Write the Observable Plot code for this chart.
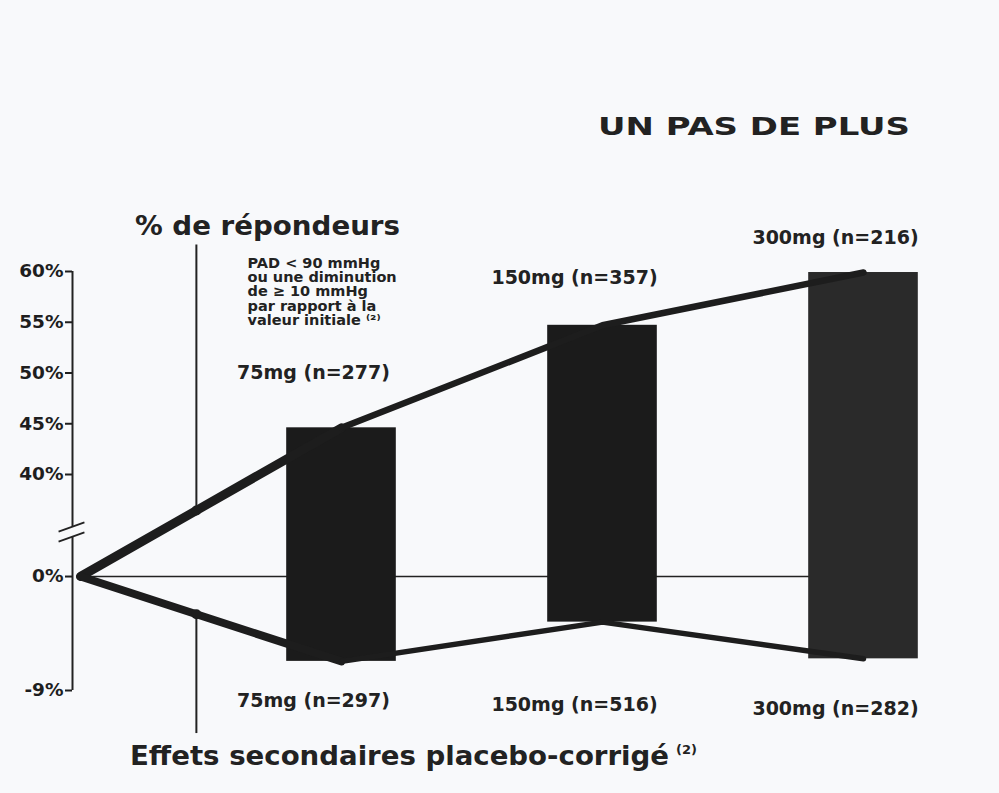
<!DOCTYPE html>
<html><head><meta charset="utf-8">
<script src="https://cdn.jsdelivr.net/npm/d3@7"></script>
<script src="https://cdn.jsdelivr.net/npm/@observablehq/plot@0.6"></script>
<style>
html,body{margin:0;padding:0;background:#f8f9fb;}
#chart{width:999px;height:793px;}
</style></head><body><div id="chart"></div>
<script>
// ---- data ----
const doses = ["75mg", "150mg", "300mg"];
const dosePos = [1, 2, 3];
const repondeurs = [44.6, 54.7, 59.9];      // % de répondeurs
const effets = [-6.7, -3.6, -6.5];          // effets secondaires placebo-corrigé
const nRepondeurs = [277, 357, 216];
const nEffets = [297, 516, 282];
const yTicks = [60, 55, 50, 45, 40, 0, -9];
const note = ["PAD < 90 mmHg", "ou une diminution", "de ≥ 10 mmHg", "par rapport à la", "valeur initiale ⁽²⁾"];

// ---- annotation anchors (data units) ----
const labelRepY = [50.0, 59.4, 63.3];
const labelEffY = [-9.8, -10.1, -10.45];

const bars = doses.map((d, i) => ({dose: d, x: dosePos[i], rep: repondeurs[i], eff: effets[i], nR: nRepondeurs[i], nE: nEffets[i], ly: labelRepY[i], le: labelEffY[i]}));
const upper = [{x: 0, v: 0}, ...bars.map(b => ({x: b.x, v: b.rep}))];
const lower = [{x: 0, v: 0}, ...bars.map(b => ({x: b.x, v: b.eff}))];

// broken axis: piecewise transform of the y values (-9..0, 0..40 compressed, 40..60)
const yBreak = d3.scaleLinear().domain([-9, 0, 40, 60]).range([0, 0.272, 0.5155, 1]);
const xDomain = [0, 3], xRange = [80, 863];
const t = 0.444;
const onSeg = v => { const a = yBreak(0), b = yBreak(v); return yBreak.invert(a + t * (b - a)); };
const callouts = [
  {x: t, y1: onSeg(repondeurs[0]), y2: 62.6},
  {x: t, y1: onSeg(effets[0]), y2: -12.4}
];
const hw = 0.21;
const ink = "#1d1d1d";

const plot = Plot.plot({
  width: 999, height: 793,
  marginLeft: 72, marginTop: 0, marginRight: 0, marginBottom: 0,
  x: {domain: xDomain, range: xRange, axis: null},
  y: {transform: yBreak, domain: [0, 1], range: [690, 271], axis: null},
  style: {background: "#f8f9fb", fontFamily: "DejaVu Sans", color: "#1e1e1e", overflow: "visible"},
  marks: [
    Plot.ruleY([0], {x1: -0.01, x2: 3.2, stroke: "#222", strokeWidth: 1.6}),
    Plot.ruleX([[-9, 15.5], [19.5, 60]], {x: 0, dx: -8, y1: d => d[0], y2: d => d[1], stroke: "#222", strokeWidth: 2}),
    Plot.link([[13.7, 17.3], [17.6, 21.2]], {x1: -0.084, x2: 0.015, y1: d => d[0], y2: d => d[1], stroke: "#222", strokeWidth: 1.8}),
    Plot.axisY({anchor: "left", ticks: yTicks.map(yBreak), tickFormat: v => Math.round(yBreak.invert(v)) + "%", tickSize: 7, tickPadding: 2, fontSize: 18.5, fontWeight: "bold", strokeWidth: 2, label: null}),
    Plot.rect(bars.filter(b => b.x < 3), {x1: d => d.x - hw, x2: d => d.x + hw, y1: "eff", y2: "rep", fill: "#1b1b1b"}),
    Plot.rect(bars.filter(b => b.x === 3), {x1: d => d.x - hw, x2: d => d.x + hw, y1: "eff", y2: "rep", fill: "#2a2a2a"}),
    Plot.line(upper.slice(0, 2), {x: "x", y: "v", stroke: ink, strokeWidth: 9, strokeLinecap: "round", strokeLinejoin: "round"}),
    Plot.line(upper.slice(1), {x: "x", y: "v", stroke: ink, strokeWidth: 6.5, strokeLinecap: "round", strokeLinejoin: "round"}),
    Plot.line(lower.slice(0, 2), {x: "x", y: "v", stroke: ink, strokeWidth: 8, strokeLinecap: "round", strokeLinejoin: "round"}),
    Plot.line(lower.slice(1), {x: "x", y: "v", stroke: ink, strokeWidth: 5.5, strokeLinecap: "round", strokeLinejoin: "round"}),
    Plot.ruleX(callouts, {x: "x", y1: "y1", y2: "y2", stroke: "#222", strokeWidth: 2}),
    Plot.dot(callouts, {x: "x", y: "y1", r: 5, fill: ink}),
    Plot.text(bars, {x: "x", y: "ly", text: d => `${d.dose} (n=${d.nR})`, dx: -28, fontSize: 19, fontWeight: "bold", fill: "#222"}),
    Plot.text(bars, {x: "x", y: "le", text: d => `${d.dose} (n=${d.nE})`, dx: -28, fontSize: 19, fontWeight: "bold", fill: "#222"}),
    Plot.text([note.join("\n")], {x: 0.64, y: 61.38, text: d => d, textAnchor: "start", lineAnchor: "top", fontSize: 14.5, fontWeight: "bold", lineHeight: 0.99, fill: "#222"})
  ]
});

const svg = d3.select(plot);
function heading(x, y, len, size, str) {
  const el = svg.append("text").attr("x", x).attr("y", y)
    .attr("text-anchor", "start")
    .attr("font-size", size).attr("font-weight", "bold").attr("fill", "#222")
    .text(str);
  if (len) el.attr("textLength", len).attr("lengthAdjust", "spacingAndGlyphs");
  return el;
}
heading(598, 135, 312, 25, "UN PAS DE PLUS");
heading(135, 235, 265, 27, "% de répondeurs");
heading(130, 765, 539, 26, "Effets secondaires placebo-corrigé");
heading(676, 754, null, 13, "(2)");

document.getElementById("chart").appendChild(plot);
</script>
</body></html>
